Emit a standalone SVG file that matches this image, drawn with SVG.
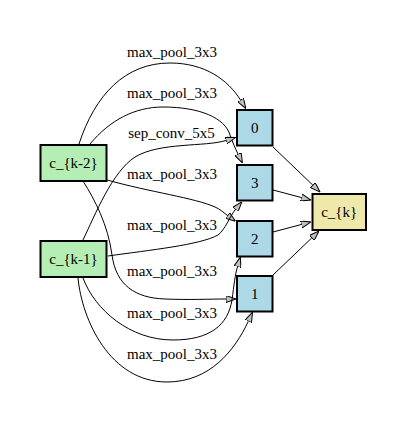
<svg xmlns="http://www.w3.org/2000/svg" width="407" height="424" viewBox="0 0 407 424">
<style>
.n{stroke:#000;stroke-width:2}
.in{fill:#b4eeb4}
.mid{fill:#add8e6}
.out{fill:#eee8aa}
text{font-family:"Liberation Serif","Times New Roman",serif;font-size:15px;fill:#000}
.c{text-anchor:middle}
.e path{fill:none;stroke:#000;stroke-width:1;marker-end:url(#ah)}
</style>
<defs>
<marker id="ah" viewBox="0 0 10 7" refX="0" refY="3.5" markerUnits="userSpaceOnUse" markerWidth="10" markerHeight="7" orient="auto">
<path d="M0,0 L10,3.5 L0,7 z" fill="#c0c0c0" stroke="#000" stroke-width="1"/>
</marker>
</defs>
<rect width="407" height="424" fill="#fff"/>
<g id="connectors" class="e">
<path d="M79,144 C95,95 125,63 170,63 C205,63 228,80 240.5,100"/>
<path d="M90,144 C110,120 135,107 163,107 C200,107 225,118 230,135 C233,143 235,148 238,154"/>
<path d="M83,240 C95,215 112,172 135,157 C160,142 205,147 226,140.5"/>
<path d="M107,180 C150,192 195,198 215,207 C220,209 224,213 227.5,215.5"/>
<path d="M108,256 C150,250 200,245 218,235 C225,230 230,216 235.4,209.5"/>
<path d="M83,181 C95,200 108,225 112,255 C116,285 135,298 165,299 C190,300 210,299 226,299"/>
<path d="M83,278 C95,310 130,340 173,340 C210,340 228,325 232,300 C234,285 235,275 237.5,266.7"/>
<path d="M78,278 C82,320 110,382 167,382 C210,382 235,350 248.3,321.3"/>
<path d="M273,147 L312.8,185.1"/>
<path d="M273,190 L301.3,197.5"/>
<path d="M273,232 L301.3,224.5"/>
<path d="M273,275 L311.8,237.9"/>
</g>
<g id="edge-labels">
<text class="c" x="172" y="57">max_pool_3x3</text>
<text class="c" x="172" y="98">max_pool_3x3</text>
<text class="c" x="171.5" y="138">sep_conv_5x5</text>
<text class="c" x="172" y="179">max_pool_3x3</text>
<text class="c" x="172" y="230">max_pool_3x3</text>
<text class="c" x="172" y="276">max_pool_3x3</text>
<text class="c" x="172" y="318">max_pool_3x3</text>
<text class="c" x="172" y="359">max_pool_3x3</text>
</g>
<g id="node-ck2"><rect class="n in" x="40.5" y="145" width="66" height="36"/><text class="c" x="73.5" y="168">c_{k-2}</text></g>
<g id="node-ck1"><rect class="n in" x="40.5" y="241" width="66" height="36"/><text class="c" x="73.5" y="264">c_{k-1}</text></g>
<g id="node-0"><rect class="n mid" x="237" y="110" width="35.5" height="35.5"/><text class="c" x="254.7" y="133">0</text></g>
<g id="node-3"><rect class="n mid" x="237" y="165" width="35.5" height="35.5"/><text class="c" x="254.7" y="188">3</text></g>
<g id="node-2"><rect class="n mid" x="237" y="221" width="35.5" height="35.5"/><text class="c" x="254.7" y="244">2</text></g>
<g id="node-1"><rect class="n mid" x="237" y="276" width="35.5" height="35.5"/><text class="c" x="254.7" y="299">1</text></g>
<g id="node-ck"><rect class="n out" x="312.5" y="194" width="53.5" height="36"/><text class="c" x="339.2" y="217">c_{k}</text></g>
</svg>
